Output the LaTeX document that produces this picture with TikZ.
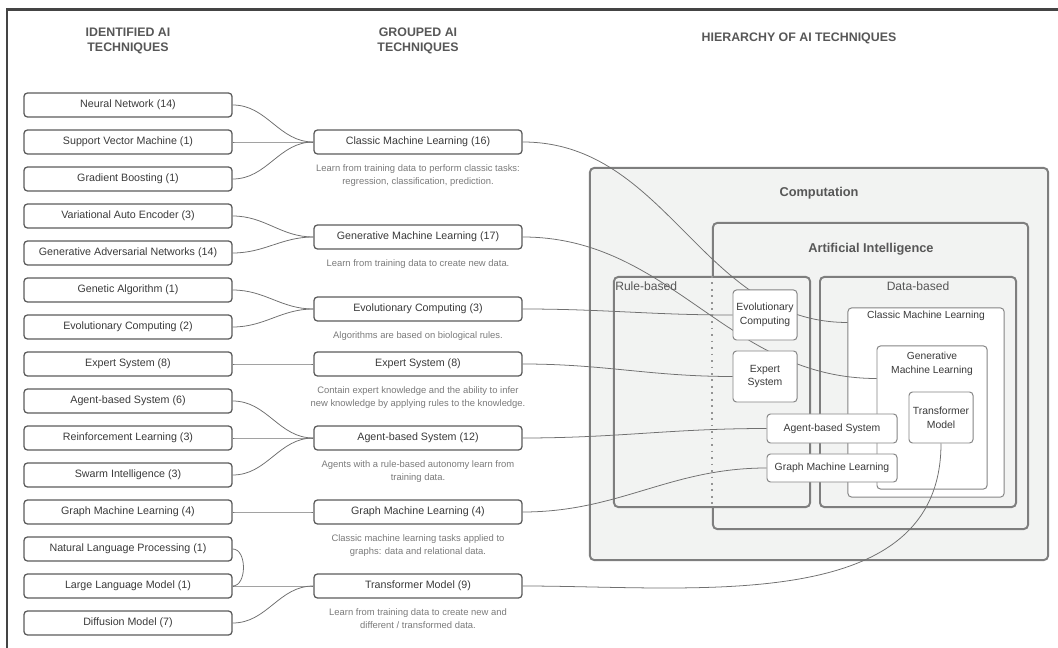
\documentclass[tikz,border=0pt]{standalone}
\usepackage{fontspec}
\setmainfont{Liberation Sans}
\usetikzlibrary{positioning}
\definecolor{cframe}{HTML}{444444}
\definecolor{cbox}{HTML}{5C5C5C}
\definecolor{cline}{HTML}{707070}
\definecolor{ctext}{HTML}{3A3A3A}
\definecolor{cnote}{HTML}{7A7A7A}
\definecolor{cfill}{HTML}{F2F3F2}
\pgfdeclarelayer{boxes}
\pgfdeclarelayer{wires}
\pgfsetlayers{boxes,wires,main}
\tikzset{
  every picture/.style={line width=0.9pt},
  techbox/.style={draw=cbox, fill=white, rounded corners=2.5pt, minimum width=5.2cm, minimum height=0.6cm, inner sep=1pt, text=ctext, font=\fontsize{7.6}{9}\selectfont},
  note/.style={text=cnote, align=center, inner sep=1pt, font=\fontsize{6.7}{9.2}\selectfont},
  title/.style={text=ctext!85, align=center, font=\fontsize{8.8}{10.2}\selectfont\bfseries},
  wire/.style={draw=cline, line width=0.55pt},
  layerbox/.style={draw=cline!90, fill=cfill, rounded corners=3pt, line width=1.4pt, inner sep=0pt},
  inbox/.style={draw=cline!85, fill=white, rounded corners=2.5pt, line width=0.7pt, inner sep=1pt, align=center, text=ctext, font=\fontsize{7.4}{9.9}\selectfont},
}
\begin{document}
\begin{tikzpicture}[x=0.025cm, y=-0.025cm]
  \useasboundingbox (0,0) rectangle (1058,648);
  \draw[draw=cframe, line width=1.5pt] (7,648) -- (7,9.5) -- (1058,9.5);
  % column headings
  \node[title] at (128,41) {IDENTIFIED AI\\TECHNIQUES};
  \node[title] at (418,41) {GROUPED AI\\TECHNIQUES};
  \node[title] at (799,38) {HIERARCHY OF AI TECHNIQUES};
  % identified techniques, #1 name, #2 y, #3 text
  \newcommand{\ident}[3]{\node[techbox] (#1) at (128,#2) {#3};}
  \ident{nn}{105}{Neural Network (14)}
  \ident{svm}{142}{Support Vector Machine (1)}
  \ident{gb}{179}{Gradient Boosting (1)}
  \ident{vae}{216}{Variational Auto Encoder (3)}
  \ident{gan}{253}{Generative Adversarial Networks (14)}
  \ident{ga}{290}{Genetic Algorithm (1)}
  \ident{ec}{327}{Evolutionary Computing (2)}
  \ident{es}{364}{Expert System (8)}
  \ident{abs}{401}{Agent-based System (6)}
  \ident{rl}{438}{Reinforcement Learning (3)}
  \ident{si}{475}{Swarm Intelligence (3)}
  \ident{gml}{512}{Graph Machine Learning (4)}
  \ident{nlp}{549}{Natural Language Processing (1)}
  \ident{llm}{586}{Large Language Model (1)}
  \ident{dm}{623}{Diffusion Model (7)}
  % grouped techniques with their notes
  \newcommand{\grouped}[4]{%
    \node[techbox] (#1) at (418,#2) {#3};
    \node[note, below=5.5pt of #1] {#4};
  }
  \grouped{gcml}{142}{Classic Machine Learning (16)}{Learn from training data to perform classic tasks:\\regression, classification, prediction.}
  \grouped{ggen}{237}{Generative Machine Learning (17)}{Learn from training data to create new data.}
  \grouped{gevo}{309}{Evolutionary Computing (3)}{Algorithms are based on biological rules.}
  \grouped{gexp}{364}{Expert System (8)}{Contain expert knowledge and the ability to infer\\new knowledge by applying rules to the knowledge.}
  \grouped{gagt}{438}{Agent-based System (12)}{Agents with a rule-based autonomy learn from\\training data.}
  \grouped{ggraph}{512}{Graph Machine Learning (4)}{Classic machine learning tasks applied to\\graphs: data and relational data.}
  \grouped{gtm}{586}{Transformer Model (9)}{Learn from training data to create new and\\different / transformed data.}
  % the nested hierarchy
  \begin{pgfonlayer}{boxes}
    \node[layerbox, minimum width=11.45cm, minimum height=9.8cm] (comp) at (819,364) {};
    \node[layerbox, minimum width=7.875cm, minimum height=7.65cm] (ai) at (870.5,376) {};
    \node[layerbox, minimum width=4.9cm, minimum height=5.75cm] (rule) at (712,392) {};
    \node[layerbox, minimum width=4.9cm, minimum height=5.75cm] (data) at (918,392) {};
    \draw[cline!75, line width=0.8pt, dash pattern=on 1.2pt off 3.4pt] (rule.north -| ai.west) -- (rule.south -| ai.west);
    \node[inbox, minimum width=3.9cm, minimum height=4.725cm] (hcml) at (926,402.5) {};
    \node[inbox, minimum width=2.75cm, minimum height=3.575cm] (hgen) at (932,417.5) {};
    \node[inbox, minimum width=1.6cm, minimum height=1.275cm] (htm) at (941,417.5) {Transformer\\Model};
  \end{pgfonlayer}
  \node[title, font=\fontsize{9.1}{10}\selectfont\bfseries] at (819,193) {Computation};
  \node[title, font=\fontsize{9.1}{10}\selectfont\bfseries] at (871,249) {Artificial Intelligence};
  \node[text=ctext!85, anchor=west, inner sep=0pt, font=\fontsize{8.6}{10}\selectfont] at (615,286) {Rule-based};
  \node[text=ctext!85, font=\fontsize{8.6}{10}\selectfont] at (918,286) {Data-based};
  \node[text=ctext, font=\fontsize{7.3}{9.6}\selectfont] at (926,316) {Classic Machine Learning};
  \node[text=ctext, align=center, font=\fontsize{7.3}{9.6}\selectfont] at (932,364) {Generative\\Machine Learning};
  \node[inbox, minimum width=1.6cm, minimum height=1.25cm] (hevo) at (765,315) {Evolutionary\\Computing};
  \node[inbox, minimum width=1.6cm, minimum height=1.275cm] (hexp) at (765,376.5) {Expert\\System};
  \node[inbox, minimum width=3.25cm, minimum height=0.725cm] (hagt) at (832,428.5) {Agent-based System};
  \node[inbox, minimum width=3.25cm, minimum height=0.7cm] (hgraph) at (832,468) {Graph Machine Learning};
  % connectors
  \begin{pgfonlayer}{wires}
    \foreach \a/\b in {nn/gcml, svm/gcml, gb/gcml, vae/ggen, gan/ggen, ga/gevo, ec/gevo, es/gexp,
                       abs/gagt, rl/gagt, si/gagt, gml/ggraph, llm/gtm, dm/gtm}
      \draw[wire] (\a.east) to[out=0, in=180] (\b.west);
    \draw[wire] (nlp.east) to[out=0, in=0] (llm.east);
    \draw[wire] (gcml.east) to[out=0, in=180] ([yshift=-0.375cm]hcml.north west);
    \draw[wire] (ggen.east) to[out=0, in=180] ([yshift=-0.825cm]hgen.north west);
    \foreach \a/\b in {gevo/hevo, gexp/hexp, gagt/hagt, ggraph/hgraph}
      \draw[wire] (\a.east) to[out=0, in=180] (\b.west);
    \draw[wire] (gtm.east) to[out=0, in=-90] (htm.south);
  \end{pgfonlayer}
\end{tikzpicture}
\end{document}
